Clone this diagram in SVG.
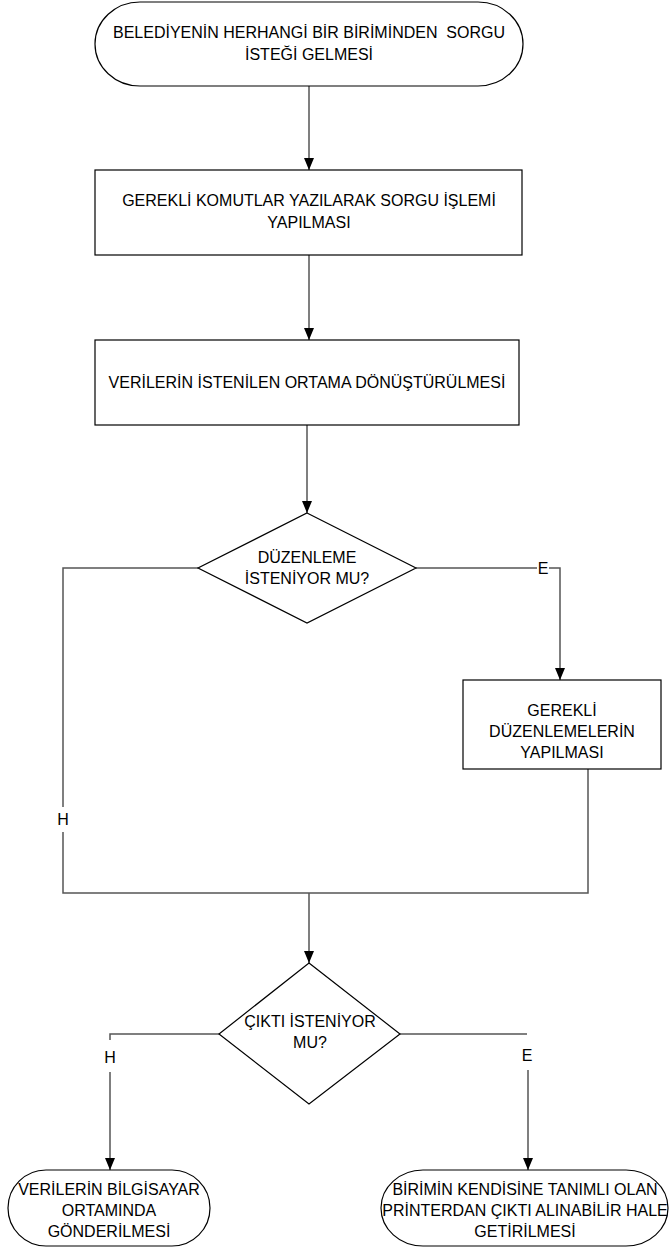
<svg xmlns="http://www.w3.org/2000/svg" width="671" height="1255" viewBox="0 0 671 1255">
<style>
.s{fill:#fff;stroke:#000;stroke-width:1.2}
.c{fill:none;stroke:#555;stroke-width:1.5}
.t{font-family:"Liberation Sans",Arial,sans-serif;font-size:16px;font-weight:normal;fill:#000;text-anchor:middle;white-space:pre}
</style>
<defs>
<marker id="ah" viewBox="0 0 12 10" refX="12" refY="5" markerWidth="12" markerHeight="10" orient="auto" markerUnits="userSpaceOnUse">
<path d="M0,0 L12,5 L0,10 z" fill="#000"/>
</marker>
</defs>
<rect width="671" height="1255" fill="#fff"/>
<g id="connectors">
<path class="c" d="M309,86 V170" marker-end="url(#ah)"/>
<path class="c" d="M309,255 V340" marker-end="url(#ah)"/>
<path class="c" d="M307,425 V513" marker-end="url(#ah)"/>
<path class="c" d="M198,568 H63 V807"/>
<path class="c" d="M63,832 V893 H588 V769"/>
<path class="c" d="M416,568 H537"/>
<path class="c" d="M549,568 H560 V680" marker-end="url(#ah)"/>
<path class="c" d="M309,893 V963" marker-end="url(#ah)"/>
<path class="c" d="M219,1034 H110 V1040"/>
<path class="c" d="M110,1072 V1170" marker-end="url(#ah)"/>
<path class="c" d="M400,1034 H527"/>
<path class="c" d="M528,1070 V1170" marker-end="url(#ah)"/>
<text class="t" x="63" y="825">H</text>
<text class="t" x="543" y="574">E</text>
<text class="t" x="110" y="1063">H</text>
<text class="t" x="527" y="1061">E</text>
</g>
<g id="n1">
<rect class="s" x="95" y="2" width="428" height="84" rx="45" ry="42"/>
<text class="t" x="309" y="38" xml:space="preserve">BELEDİYENİN HERHANGİ BİR BİRİMİNDEN  SORGU</text>
<text class="t" x="309" y="60">İSTEĞİ GELMESİ</text>
</g>
<g id="n2">
<rect class="s" x="95" y="170" width="427" height="85"/>
<text class="t" x="309" y="206">GEREKLİ KOMUTLAR YAZILARAK SORGU İŞLEMİ</text>
<text class="t" x="309" y="228">YAPILMASI</text>
</g>
<g id="n3">
<rect class="s" x="95" y="340" width="424" height="85"/>
<text class="t" x="307" y="388">VERİLERİN İSTENİLEN ORTAMA DÖNÜŞTÜRÜLMESİ</text>
</g>
<g id="n4">
<polygon class="s" points="307,513 416,568 307,623 198,568"/>
<text class="t" x="307" y="563">DÜZENLEME</text>
<text class="t" x="307" y="584">İSTENİYOR MU?</text>
</g>
<g id="n5">
<rect class="s" x="463" y="680" width="198" height="89"/>
<text class="t" x="562" y="716">GEREKLİ</text>
<text class="t" x="562" y="737">DÜZENLEMELERİN</text>
<text class="t" x="562" y="758">YAPILMASI</text>
</g>
<g id="n6">
<polygon class="s" points="309,963 400,1034 309,1104 219,1034"/>
<text class="t" x="310" y="1027">ÇIKTI İSTENİYOR</text>
<text class="t" x="310" y="1048">MU?</text>
</g>
<g id="n7">
<rect class="s" x="8" y="1170" width="202" height="76" rx="38" ry="38"/>
<text class="t" x="109" y="1195">VERİLERİN BİLGİSAYAR</text>
<text class="t" x="109" y="1216">ORTAMINDA</text>
<text class="t" x="109" y="1237">GÖNDERİLMESİ</text>
</g>
<g id="n8">
<rect class="s" x="381" y="1170" width="287" height="76" rx="42" ry="38"/>
<text class="t" x="525" y="1195">BİRİMİN KENDİSİNE TANIMLI OLAN</text>
<text class="t" x="525" y="1216">PRİNTERDAN ÇIKTI ALINABİLİR HALE</text>
<text class="t" x="525" y="1237">GETİRİLMESİ</text>
</g>
</svg>
